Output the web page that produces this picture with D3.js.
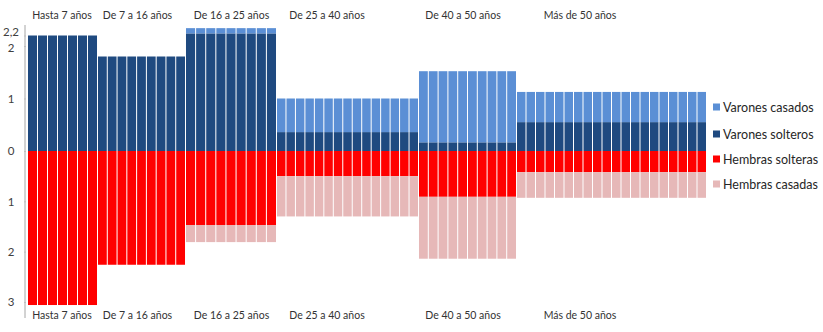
<!DOCTYPE html>
<html>
<head>
<meta charset="utf-8">
<script src="https://cdn.jsdelivr.net/npm/d3@7"></script>
<style>
  html, body { margin: 0; padding: 0; background: #ffffff; }
  svg { display: block; }
</style>
</head>
<body>
<svg id="chart" width="823" height="332"></svg>
<script>
// Age groups, with the age at which each one starts (the last ends at 70)
const groups = ["Hasta 7 años", "De 7 a 16 años", "De 16 a 25 años", "De 25 a 40 años", "De 40 a 50 años", "Más de 50 años"];
const groupStartAge = [0, 7, 16, 25, 40, 50];
const lastAge = 70;

// Men (drawn upwards): single, then married stacked on top
const varonesSolteros = [2.2, 1.8, 2.24, 0.36, 0.165, 0.55];
const varonesCasados  = [0.0, 0.0, 0.10, 0.64, 1.355, 0.575];

// Women (drawn downwards): single, then married stacked below
const hembrasSolteras = [3.06, 2.26, 1.47, 0.50, 0.91, 0.42];
const hembrasCasadas  = [0.0, 0.0, 0.34, 0.80, 1.23, 0.51];

// Axis tick values and their printed labels
const tickValues = [2.2, 2, 1, 0, -1, -2, -3];
const tickLabels = ["2,2", "2", "1", "0", "1", "2", "3"];

const seriesNames  = ["Varones casados", "Varones solteros", "Hembras solteras", "Hembras casadas"];
const seriesColors = ["#5b8fd5", "#1f4a80", "#ff0000", "#e6b8b8"];

// One record per year of age, each carrying its group's values
const ageEdges = groupStartAge.concat([lastAge]);
const years = [];
groups.forEach((g, gi) => {
  for (let a = ageEdges[gi]; a < ageEdges[gi + 1]; a++) {
    years.push({
      age: a, group: gi,
      vs: varonesSolteros[gi], vc: varonesCasados[gi],
      hs: hembrasSolteras[gi], hc: hembrasCasadas[gi]
    });
  }
});

const svg = d3.select("#chart");
const font = "Lato, 'Open Sans', sans-serif";

// Piecewise age axis: each group band has its own width on the page
const x = d3.scaleLinear().domain(ageEdges).range([28, 98, 186, 277, 419, 517, 707]);
const y = d3.scaleLinear().domain([-3, 0, 2.2]).range([302, 151, 35.5]);

// Stacked segments: [bottom value, top value, colour index]
const segs = [];
years.forEach(d => {
  segs.push({ d, y0: 0, y1: d.vs, c: 1 });
  segs.push({ d, y0: d.vs, y1: d.vs + d.vc, c: 0 });
  segs.push({ d, y0: -d.hs, y1: 0, c: 2 });
  segs.push({ d, y0: -d.hs - d.hc, y1: -d.hs, c: 3 });
});

svg.append("g").selectAll("rect")
  .data(segs.filter(s => s.y1 - s.y0 > 0))
  .join("rect")
  .attr("x", s => x(s.d.age))
  .attr("width", s => x(s.d.age + 1) - x(s.d.age) - 1)
  .attr("y", s => y(s.y1))
  .attr("height", s => y(s.y0) - y(s.y1))
  .attr("fill", s => seriesColors[s.c]);

// Vertical axis
svg.append("line")
  .attr("x1", 25).attr("x2", 25).attr("y1", 25).attr("y2", 318)
  .attr("stroke", "#a6a6a6").attr("stroke-width", 1);

const labelNudge = [-3.5, 2, 0, 0, 0, 0, 0];
const axis = d3.axisLeft(y).tickValues(tickValues)
  .tickFormat((v, i) => tickLabels[i]).tickSizeInner(2).tickSizeOuter(0);
const ag = svg.append("g").attr("transform", "translate(26,0)").call(axis);
ag.select(".domain").remove();
ag.selectAll(".tick line").attr("stroke", "#bfbfbf");
ag.selectAll(".tick text")
  .attr("x", -15).attr("text-anchor", "middle")
  .attr("y", (v, i) => labelNudge[i])
  .attr("font-family", font).attr("font-size", 11.5).attr("fill", "#404040");

// Group labels above and below the bars
const labelShift = [-1, -4.5, 0, -21, -5, -32];
const centers = groups.map((g, gi) => (x(ageEdges[gi]) + x(ageEdges[gi + 1])) / 2 + labelShift[gi]);
[19, 319].forEach(ly => {
  svg.append("g").selectAll("text").data(groups).join("text")
    .attr("x", (g, i) => centers[i]).attr("y", ly)
    .attr("text-anchor", "middle")
    .attr("font-family", font).attr("font-size", 10.5).attr("fill", "#333333")
    .text(g => g);
});

// Legend
const legendY = [107, 134, 159, 184];
const lg = svg.append("g").selectAll("g").data(seriesNames).join("g")
  .attr("transform", (n, i) => `translate(713,${legendY[i]})`);
lg.append("rect").attr("x", 0).attr("y", -3.5).attr("width", 7).attr("height", 7)
  .attr("fill", (n, i) => seriesColors[i]);
lg.append("text").attr("x", 10).attr("y", 4.5)
  .attr("font-family", font).attr("font-size", 12.5).attr("fill", "#262626")
  .text(n => n);
</script>
</body>
</html>
